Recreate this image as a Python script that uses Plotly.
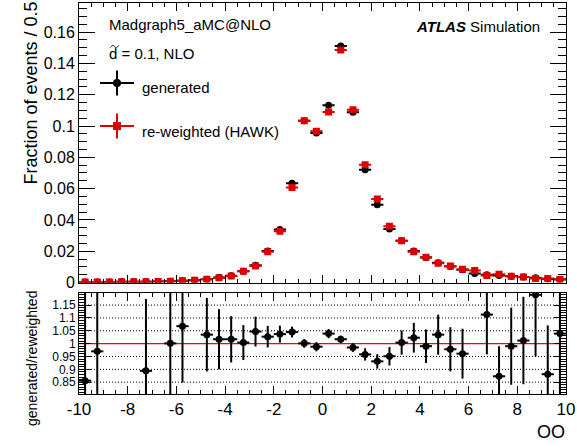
import plotly.graph_objects as go

# Bin centres of the OO distribution (bin width 0.5)
bin_centres = [-9.75 + 0.5 * i for i in range(40)]
half_width = [0.25] * 40

# Normalised fractions per bin
generated = [
    0.0003, 0.0003, 0.0003, 0.0004, 0.0004, 0.0005, 0.0006, 0.0008, 0.0011, 0.0015,
    0.0021, 0.0032, 0.0043, 0.0072, 0.0110, 0.0202, 0.0339, 0.0634, 0.1034, 0.0955,
    0.1132, 0.1511, 0.1088, 0.0721, 0.0497, 0.0342, 0.0267, 0.0202, 0.0159, 0.0127,
    0.0103, 0.0081, 0.0058, 0.0050, 0.0045, 0.0040, 0.0035, 0.0031, 0.0023, 0.0020,
]
reweighted = [
    0.0003, 0.0003, 0.0003, 0.0004, 0.0004, 0.0005, 0.0006, 0.0008, 0.0011, 0.0015,
    0.0020, 0.0031, 0.0042, 0.0072, 0.0105, 0.0197, 0.0327, 0.0607, 0.1033, 0.0967,
    0.1090, 0.1486, 0.1104, 0.0753, 0.0534, 0.0360, 0.0266, 0.0197, 0.0161, 0.0123,
    0.0105, 0.0084, 0.0076, 0.0045, 0.0052, 0.0040, 0.0035, 0.0026, 0.0026, 0.0019,
]

# generated / reweighted ratio (None: outside the displayed range)
ratio = [
    0.856, 0.970, None, None, None, 0.894, None, 1.001, 1.068, None,
    1.035, 1.017, 1.017, 1.004, 1.047, 1.027, 1.037, 1.045, 1.001, 0.988,
    1.039, 1.017, 0.985, 0.958, 0.931, 0.951, 1.004, 1.023, 0.990, 1.035,
    0.978, 0.961, None, 1.113, 0.873, 0.990, 1.012, 1.190, 0.881, 1.039,
]
ratio_err = [
    0.5, 0.5, 0, 0, 0, 0.28, 0, 0.5, 0.22, 0,
    0.143, 0.117, 0.09, 0.068, 0.058, 0.042, 0.033, 0.021, 0.017, 0.018,
    0.018, 0.014, 0.017, 0.024, 0.028, 0.036, 0.047, 0.058, 0.065, 0.078,
    0.086, 0.097, 0, 0.155, 0.117, 0.15, 0.17, 0.24, 0.19, 0.5,
]

x_ticks = [-10, -8, -6, -4, -2, 0, 2, 4, 6, 8, 10]
x_ticktext = ["-10", "-8", "-6", "-4", "-2", "0", "2", "4", "6", "8", "10"]
r_ticks = [0.85, 0.9, 0.95, 1.0, 1.05, 1.1, 1.15]
r_ticktext = ["0.85", "0.9", "0.95", "1", "1.05", "1.1", "1.15"]

RED = "#dd0000"
FONT = "Liberation Sans, Arial, sans-serif"

W, H = 577, 448
L, R, T, B = 79, 11, 3, 54
plot_w = W - L - R
plot_h = H - T - B
top_dom = [(394 - 282.5) / plot_h, 1.0]
bot_dom = [0.0, (394 - 293) / plot_h]


def px_x(px):
    return (px - L) / plot_w


def px_y(py):
    return (394 - py) / plot_h


fig = go.Figure()

fig.add_trace(go.Scatter(
    x=bin_centres, y=generated, mode="markers",
    marker=dict(symbol="circle", size=7, color="black"),
    error_x=dict(type="data", array=half_width, color="black", thickness=2, width=0),
    xaxis="x", yaxis="y", showlegend=False,
))
fig.add_trace(go.Scatter(
    x=bin_centres, y=reweighted, mode="markers",
    marker=dict(symbol="square", size=7, color=RED),
    error_x=dict(type="data", array=half_width, color=RED, thickness=2, width=0),
    xaxis="x", yaxis="y", showlegend=False,
))
fig.add_trace(go.Scatter(
    x=bin_centres, y=ratio, mode="markers",
    marker=dict(symbol="circle", size=7, color="black"),
    error_x=dict(type="data", array=half_width, color="black", thickness=2, width=0),
    error_y=dict(type="data", array=ratio_err, color="black", thickness=2, width=0),
    xaxis="x2", yaxis="y2", showlegend=False,
))

# Legend glyphs, drawn on a pixel-space overlay of the upper panel
fig.add_trace(go.Scatter(
    x=[117], y=[83], mode="markers",
    marker=dict(symbol="circle", size=8, color="black"),
    error_x=dict(type="constant", value=17, color="black", thickness=2, width=0),
    error_y=dict(type="constant", value=12.5, color="black", thickness=2, width=0),
    xaxis="x3", yaxis="y3", cliponaxis=False, showlegend=False,
))
fig.add_trace(go.Scatter(
    x=[117], y=[126], mode="markers",
    marker=dict(symbol="square", size=8, color=RED),
    error_x=dict(type="constant", value=17, color=RED, thickness=2, width=0),
    error_y=dict(type="constant", value=12.5, color=RED, thickness=2, width=0),
    xaxis="x3", yaxis="y3", cliponaxis=False, showlegend=False,
))

frame = dict(showline=True, linecolor="black", linewidth=1, mirror="allticks",
             ticks="inside", tickcolor="black", zeroline=False, showgrid=False)

# dotted reference lines of the ratio panel, red line at unity
shapes = [dict(type="line", xref="x2", yref="y2", x0=-10, x1=10, y0=v, y1=v,
               layer="below", line=dict(color="black", width=1, dash="1px,2px"))
          for v in r_ticks if v != 1.0]
shapes.append(dict(type="line", xref="x2", yref="y2", x0=-10, x1=10, y0=1, y1=1,
                   layer="below", line=dict(color="#ff0000", width=1.3)))
# tilde over the "d"
tx, ty = 110.5, 46.5
shapes.append(dict(
    type="path", xref="paper", yref="paper",
    path=(f"M {px_x(tx)},{px_y(ty + 1)} "
          f"C {px_x(tx + 2)},{px_y(ty - 2)} {px_x(tx + 3.5)},{px_y(ty - 1)} "
          f"{px_x(tx + 4)},{px_y(ty)} "
          f"S {px_x(tx + 6.5)},{px_y(ty + 2)} {px_x(tx + 8)},{px_y(ty - 1)}"),
    line=dict(color="black", width=1)))

fig.update_layout(
    width=W, height=H,
    margin=dict(l=L, r=R, t=T, b=B),
    paper_bgcolor="white", plot_bgcolor="white",
    font=dict(family=FONT, color="black"),
    xaxis=dict(domain=[0, 1], anchor="y", range=[-10, 10], showticklabels=False,
               tick0=0, dtick=2, ticklen=8,
               minor=dict(dtick=0.5, ticks="inside", ticklen=4, tickcolor="black"),
               **frame),
    yaxis=dict(domain=top_dom, anchor="x", range=[0, 0.1786], dtick=0.02, ticklen=16,
               tickfont=dict(size=16),
               minor=dict(dtick=0.005, ticks="inside", ticklen=8, tickcolor="black"),
               **frame),
    xaxis2=dict(domain=[0, 1], anchor="y2", range=[-10, 10], tickmode="array",
                tickvals=x_ticks, ticktext=x_ticktext, ticklen=8,
                tickfont=dict(size=17),
                minor=dict(dtick=0.5, ticks="inside", ticklen=4, tickcolor="black"),
                **frame),
    yaxis2=dict(domain=bot_dom, anchor="x2", range=[0.804, 1.197], tickmode="array",
                tickvals=r_ticks, ticktext=r_ticktext, ticklen=12,
                tickfont=dict(size=12),
                minor=dict(dtick=0.01, ticks="inside", ticklen=6, tickcolor="black"),
                **frame),
    xaxis3=dict(anchor="y3", range=[79, 566], visible=False, overlaying="x"),
    yaxis3=dict(anchor="x3", range=[282.5, 3], visible=False, overlaying="y"),
    shapes=shapes,
)


def note(text, px, py, size, xanchor="left", yanchor="middle", angle=0):
    # place text at a pixel position of the page, via paper coordinates
    fig.add_annotation(text=text, x=px_x(px), y=px_y(py),
                       xref="paper", yref="paper", showarrow=False,
                       xanchor=xanchor, yanchor=yanchor, textangle=angle,
                       font=dict(size=size, family=FONT, color="black"))


note("Madgraph5_aMC@NLO", 107, 25, 15)
note("d = 0.1, NLO", 107, 53.5, 15)
note("generated", 140, 88, 15)
note("re-weighted (HAWK)", 140, 131, 15)
note("<b><i>ATLAS</i></b> Simulation", 542, 26, 15, xanchor="right")
note("Fraction of events / 0.5", 18, 187, 18, yanchor="bottom", angle=-90)
note("generated/reweighted", 22, 359, 14, angle=-90)
note("OO", 567, 432, 18, xanchor="right")

fig.write_html("out.html")
